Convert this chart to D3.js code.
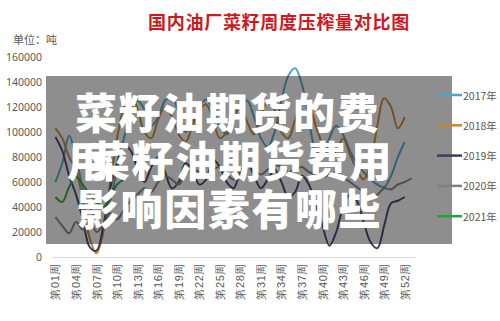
<!DOCTYPE html>
<html>
<head>
<meta charset="utf-8">
<script src="https://cdn.jsdelivr.net/npm/d3@7"></script>
<style>
  body { margin: 0; background: #fff; }
  svg { display: block; font-family: "Noto Sans CJK SC", "Noto Sans", sans-serif; }
</style>
</head>
<body>
<svg width="500" height="321"></svg>
<script>
// weekly rapeseed crush volume (tons)
var weeks = d3.range(1, 54);
var weekLabels = d3.range(1, 53, 3).map(function (w) { return "第" + d3.format("02d")(w) + "周"; });
var yTicks = [0, 20000, 40000, 60000, 80000, 100000, 120000, 140000, 160000];

var years = ["2017年", "2018年", "2019年", "2020年", "2021年"];
var colors = ["#4aa6cc", "#c8862e", "#3f3a62", "#808080", "#23a33a"];

var v2017 = [60000, 75000, 97000, 80000, 55000, 40000, 30000, 25000, 45000, 70000, 95000, 115000, 125000, 118000, 105000, 112000, 125000, 128000, 115000, 100000, 108000, 120000, 126000, 118000, 104000, 98000, 110000, 122000, 125000, 112000, 95000, 88000, 100000, 125000, 145000, 151000, 138000, 110000, 85000, 80000, 95000, 105000, 98000, 85000, 75000, 68000, 62000, 58000, 56000, 65000, 80000, 92000];
var v2018 = [103000, 95000, 80000, 70000, 45000, 15000, 3000, 20000, 60000, 95000, 120000, 130000, 118000, 100000, 95000, 110000, 120000, 112000, 98000, 92000, 105000, 118000, 122000, 110000, 95000, 100000, 115000, 120000, 108000, 98000, 112000, 125000, 118000, 100000, 95000, 110000, 126000, 122000, 105000, 90000, 80000, 85000, 95000, 82000, 70000, 62000, 75000, 105000, 127000, 120000, 103000, 112000];
var v2019 = [96000, 85000, 65000, 50000, 30000, 8000, 5000, 25000, 55000, 75000, 90000, 85000, 70000, 60000, 72000, 80000, 68000, 55000, 60000, 75000, 70000, 58000, 62000, 78000, 72000, 60000, 55000, 68000, 75000, 65000, 55000, 62000, 70000, 60000, 48000, 52000, 65000, 58000, 42000, 25000, 9000, 20000, 40000, 50000, 45000, 28000, 12000, 7000, 25000, 43000, 45000, 48000];
var v2020 = [32000, 25000, 19000, 28000, 22000, 30000, 20000, 26000, 35000, 30000, 38000, 45000, 50000, 55000, 52000, 60000, 65000, 62000, 58000, 66000, 70000, 68000, 64000, 70000, 72000, 66000, 62000, 68000, 72000, 70000, 66000, 70000, 74000, 72000, 68000, 70000, 72000, 68000, 66000, 64000, 66000, 68000, 64000, 60000, 56000, 52000, 48000, 50000, 55000, 54000, 58000, 60000, 63000];
var v2021 = [48000, 44000, 56000, 64000, 58000, 50000, 44000, 40000, 48000, 58000, 62000];

var series = [v2017, v2018, v2019, v2020, v2021];

var svg = d3.select("svg");

// scales
var x = d3.scaleBand()
    .domain(weeks)
    .range([52, 415]);

var y = d3.scaleLinear()
    .domain([0, 160000])
    .range([257, 57]);

function xc(w) { return x(w) + x.bandwidth() / 2; }

// title
svg.append("text")
  .attr("x", 279)
  .attr("y", 21)
  .attr("text-anchor", "middle")
  .attr("dominant-baseline", "central")
  .attr("fill", "#cc1a1e")
  .attr("font-size", 18)
  .attr("font-weight", 700)
  .attr("letter-spacing", 0.7)
  .text("国内油厂菜籽周度压榨量对比图");

// unit
svg.append("text")
  .attr("x", 13)
  .attr("y", 39)
  .attr("dominant-baseline", "central")
  .attr("fill", "#595959")
  .attr("font-size", 11)
  .text("单位：吨");

// y axis labels
var yAxis = d3.axisLeft(y)
    .tickValues(yTicks)
    .tickSize(0)
    .tickPadding(3)
    .tickFormat(d3.format("d"));

var gy = svg.append("g")
  .attr("transform", "translate(45,0)")
  .call(yAxis);
gy.select(".domain").remove();
gy.selectAll("text")
  .attr("fill", "#595959")
  .attr("font-size", 10.5)
  .attr("font-family", "Noto Sans, sans-serif");

// x axis
var xAxis = d3.axisBottom(x)
    .tickValues(d3.range(1, 53, 3))
    .tickSize(0)
    .tickPadding(0)
    .tickFormat(function (d) { return "第" + d3.format("02d")(d) + "周"; });

var gx = svg.append("g")
  .attr("transform", "translate(0,257)")
  .call(xAxis);
gx.select(".domain").attr("stroke", "#d9d9d9");
gx.selectAll("text")
  .attr("fill", "#595959")
  .attr("font-size", 11)
  .attr("letter-spacing", 0.6)
  .attr("text-anchor", "end")
  .attr("dominant-baseline", "central")
  .attr("transform", "translate(0,6) rotate(-90)")
  .attr("x", 0)
  .attr("y", 0)
  .attr("dy", null);

// lines
var line = d3.line()
    .x(function (d, i) { return xc(weeks[i]); })
    .y(function (d) { return y(d); })
    .curve(d3.curveCatmullRom.alpha(0.5));

svg.append("g")
  .selectAll("path")
  .data(series)
  .enter()
    .append("path")
    .attr("d", line)
    .attr("fill", "none")
    .attr("stroke", function (d, i) { return colors[i]; })
    .attr("stroke-width", 2);

// dark overlay band
svg.append("rect")
  .attr("x", 46)
  .attr("y", 76)
  .attr("width", 406)
  .attr("height", 168)
  .attr("fill", "#1e1e1e")
  .attr("opacity", 0.5);

// legend
var legend = svg.append("g")
  .selectAll("g")
  .data(years)
  .enter()
    .append("g")
    .attr("transform", function (d, i) { return "translate(0," + (95 + i * 30.3) + ")"; });

legend.append("line")
  .attr("x1", 437)
  .attr("x2", 462)
  .attr("stroke", function (d, i) { return colors[i]; })
  .attr("stroke-width", 2.5);

legend.append("text")
  .attr("x", 463)
  .attr("dominant-baseline", "central")
  .attr("fill", "#595959")
  .attr("font-size", 10.5)
  .text(function (d) { return d; });

// overlay headline
var big = svg.append("g")
  .attr("fill", "#fff")
  .attr("font-size", 42)
  .attr("font-weight", 900)
  .attr("letter-spacing", 1.6);

big.append("text")
  .attr("x", 75).attr("y", 110)
  .attr("dominant-baseline", "central")
  .text("菜籽油期货的费");

big.append("text")
  .attr("x", 67).attr("y", 158)
  .attr("dominant-baseline", "central")
  .text("用");

big.append("text")
  .attr("x", 88).attr("y", 158)
  .attr("dominant-baseline", "central")
  .text("菜籽油期货费用");

big.append("text")
  .attr("x", 77).attr("y", 206)
  .attr("dominant-baseline", "central")
  .text("影响因素有哪些");
</script>
</body>
</html>
